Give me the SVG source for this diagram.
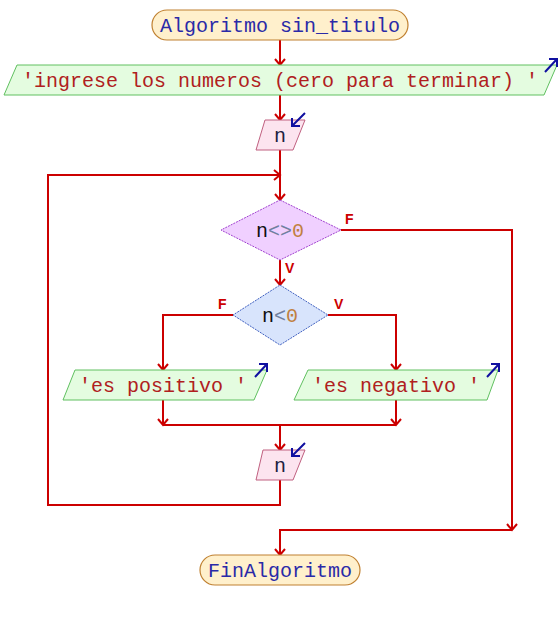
<svg xmlns="http://www.w3.org/2000/svg" width="560" height="620" viewBox="0 0 560 620">
<style>
.ln{fill:none;stroke:#cc0000;stroke-width:2}
.term{fill:#fff0cc;stroke:#c08030;stroke-width:1.2}
.out{fill:#e4fce0;stroke:#60c060;stroke-width:1}
.inp{fill:#fce4ef;stroke:#c06080;stroke-width:1}
.ico{fill:none;stroke:#1010a0;stroke-width:2}
.t{font-family:"Liberation Mono","DejaVu Sans Mono",monospace;font-size:20px;text-anchor:middle}
.kw{fill:#2a2aa8}
.str{fill:#b02020}
.var{fill:#202040}
.lab{font-family:"Liberation Sans",Arial,sans-serif;font-size:14px;font-weight:bold;fill:#cc0000}
</style>
<defs>
<marker id="ar" viewBox="-8 -8 16 16" refX="0" refY="0" markerWidth="16" markerHeight="16" markerUnits="userSpaceOnUse" orient="auto">
<path d="M-6,-5 L0,0 L-6,5" fill="none" stroke="#cc0000" stroke-width="2"/>
</marker>
</defs>
<g id="connectors">
<path class="ln" d="M280,40 V65" marker-end="url(#ar)"/>
<path class="ln" d="M280,95 V120" marker-end="url(#ar)"/>
<path class="ln" d="M280,150 V200" marker-end="url(#ar)"/>
<path class="ln" d="M280,480 V505 H48 V175 H280" marker-end="url(#ar)"/>
<path class="ln" d="M280,260 V285" marker-end="url(#ar)"/>
<path class="ln" d="M341,230 H512 V530" marker-end="url(#ar)"/>
<path class="ln" d="M512,530 H280 V555" marker-end="url(#ar)"/>
<path class="ln" d="M233,315 H163 V370" marker-end="url(#ar)"/>
<path class="ln" d="M328,315 H396 V370" marker-end="url(#ar)"/>
<path class="ln" d="M163,400 V425" marker-end="url(#ar)"/>
<path class="ln" d="M396,400 V425" marker-end="url(#ar)"/>
<path class="ln" d="M163,425 H396"/>
<path class="ln" d="M280,425 V450" marker-end="url(#ar)"/>
<text class="lab" x="345" y="224">F</text>
<text class="lab" x="285" y="273">V</text>
<text class="lab" x="218" y="309">F</text>
<text class="lab" x="334" y="309">V</text>
</g>
<g id="start">
<rect class="term" x="152" y="10" width="256" height="30" rx="15"/>
<text class="t kw" x="280" y="32">Algoritmo sin_titulo</text>
</g>
<g id="out1">
<polygon class="out" points="17,65 557,65 544,95 4,95"/>
<text class="t str" x="280" y="87">'ingrese los numeros (cero para terminar) '</text>
<path class="ico" d="M545,72 L557,59 M549,59 H557 V67"/>
</g>
<g id="in1">
<polygon class="inp" points="265,120 305,120 293,150 256,150"/>
<text class="t var" x="280" y="142">n</text>
<path class="ico" d="M305,113 L292,126 M292,118 V126 H300"/>
</g>
<g id="cond1">
<polygon points="280,200 341,230 280,260 221,230" fill="#f0d0ff" stroke="#a040d0" stroke-width="1" stroke-dasharray="2,1"/>
<text class="t" x="280" y="237"><tspan fill="#101010">n</tspan><tspan fill="#7080a0">&lt;&gt;</tspan><tspan fill="#c08040">0</tspan></text>
</g>
<g id="cond2">
<polygon points="280,285 328,315 280,345 233,315" fill="#d8e4fc" stroke="#4060c0" stroke-width="1" stroke-dasharray="2,1"/>
<text class="t" x="280" y="322"><tspan fill="#101010">n</tspan><tspan fill="#7080a0">&lt;</tspan><tspan fill="#c08040">0</tspan></text>
</g>
<g id="out2">
<polygon class="out" points="75,370 267,370 254,400 63,400"/>
<text class="t str" x="163" y="392">'es positivo '</text>
<path class="ico" d="M255,377 L267,364 M259,364 H267 V372"/>
</g>
<g id="out3">
<polygon class="out" points="308,370 498,370 487,400 294,400"/>
<text class="t str" x="396" y="392">'es negativo '</text>
<path class="ico" d="M487,377 L499,364 M491,364 H499 V372"/>
</g>
<g id="in2">
<polygon class="inp" points="263,450 305,450 293,480 256,480"/>
<text class="t var" x="280" y="472">n</text>
<path class="ico" d="M305,443 L292,456 M292,448 V456 H300"/>
</g>
<g id="end">
<rect class="term" x="200" y="555" width="160" height="30" rx="15"/>
<text class="t kw" x="280" y="577">FinAlgoritmo</text>
</g>
</svg>
